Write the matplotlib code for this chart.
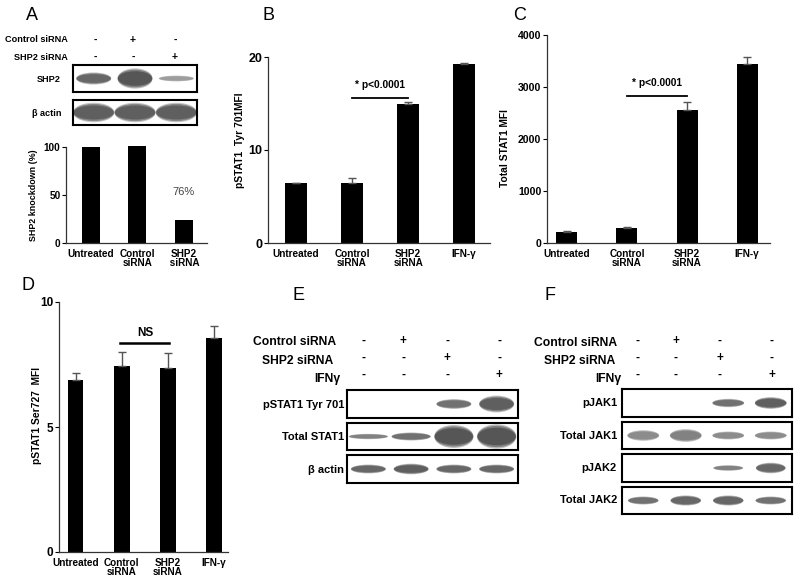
import matplotlib.pyplot as plt
from matplotlib.patches import Ellipse

plt.rcParams['font.family'] = ['Liberation Sans', 'DejaVu Sans']

W, H = 800, 581

# ---- data ----
a_cats = ["Untreated", "Control\nsiRNA", "SHP2\n siRNA"]
a_vals = [100, 101, 24]

b_cats = ["Untreated", "Control\nsiRNA", "SHP2\nsiRNA", "IFN-\u03b3"]
b_vals = [6.4, 6.5, 15.0, 19.3]
b_err = [0.05, 0.5, 0.15, 0.1]

c_cats = ["Untreated", "Control\nsiRNA", "SHP2\nsiRNA", "IFN-\u03b3"]
c_vals = [215, 290, 2555, 3440]
c_err = [15, 10, 150, 135]

d_cats = ["Untreated", "Control\nsiRNA", "SHP2\nsiRNA", "IFN-\u03b3"]
d_vals = [6.9, 7.45, 7.35, 8.55]
d_err = [0.25, 0.55, 0.6, 0.5]

# blot conditions (+/-)
a_ctrl = ["-", "+", "-"]
a_shp2 = ["-", "-", "+"]
ef_ctrl = ["-", "+", "-", "-"]
ef_shp2 = ["-", "-", "+", "-"]
ef_ifn = ["-", "-", "-", "+"]

# band intensity (0-1) and thickness (fraction of box height)
a_shp2_int = [0.85, 0.95, 0.55]
a_shp2_th = [0.45, 0.75, 0.22]
a_actin_int = [0.9, 0.9, 0.9]
a_actin_th = [0.78, 0.78, 0.78]

e_pstat_int = [0, 0, 0.8, 0.9]
e_pstat_th = [0, 0, 0.35, 0.6]
e_tstat_int = [0.7, 0.8, 0.95, 0.95]
e_tstat_th = [0.2, 0.3, 0.85, 0.9]
e_actin_int = [0.85, 0.9, 0.85, 0.85]
e_actin_th = [0.32, 0.38, 0.32, 0.32]

f_pjak1_int = [0, 0, 0.8, 0.9]
f_pjak1_th = [0, 0, 0.3, 0.42]
f_tjak1_int = [0.65, 0.7, 0.65, 0.65]
f_tjak1_th = [0.4, 0.48, 0.3, 0.3]
f_pjak2_int = [0, 0, 0.7, 0.85]
f_pjak2_th = [0, 0, 0.2, 0.38]
f_tjak2_int = [0.8, 0.85, 0.85, 0.8]
f_tjak2_th = [0.3, 0.38, 0.38, 0.3]


def rect(x0, y0, x1, y1):
    return [x0 / W, 1 - y1 / H, (x1 - x0) / W, (y1 - y0) / H]


fig = plt.figure(figsize=(8, 5.81), dpi=100)

TICK = 7.2


def bar_panel(box, cats, vals, err, xlim, ylim, yticks, width, yfs):
    ax = fig.add_axes(rect(*box))
    x = list(range(len(cats)))
    kw = {}
    if err is not None:
        kw = dict(yerr=[[0] * len(err), err], capsize=3,
                  error_kw=dict(ecolor="#555555", elinewidth=1, capthick=1))
    ax.bar(x, vals, width=width, color="black", clip_on=False, **kw)
    ax.set_xlim(*xlim)
    ax.set_ylim(*ylim)
    ax.set_yticks(yticks)
    ax.set_yticklabels([str(t) for t in yticks], fontsize=yfs, fontweight="bold")
    ax.set_xticks(x)
    ax.set_xticklabels(cats, fontsize=TICK, fontweight="bold", linespacing=0.9)
    ax.tick_params(axis="x", length=0, pad=4)
    ax.tick_params(axis="y", length=3, width=0.8, pad=1)
    for s in ["top", "right"]:
        ax.spines[s].set_visible(False)
    for s in ["left", "bottom"]:
        ax.spines[s].set_linewidth(0.9)
        ax.spines[s].set_color("#333333")
    return ax


def blot(box, ints, ths, bw=0.8):
    ax = fig.add_axes(rect(*box))
    n = len(ints)
    ax.set_xlim(-0.5, n - 0.5)
    ax.set_ylim(0, 1)
    ax.set_xticks([])
    ax.set_yticks([])
    for s in ax.spines.values():
        s.set_linewidth(1.5)
    for i, (v, t) in enumerate(zip(ints, ths)):
        if v <= 0:
            continue
        g = 1 - v * 0.75
        for scale, alpha in [(1.0, 0.35), (0.88, 0.55), (0.72, 0.75)]:
            ax.add_patch(Ellipse((i, 0.5), bw * (0.9 + 0.1 * scale), t * scale,
                                 color=(g, g, g), alpha=alpha, lw=0))
    return ax


def signs(xs, y, vals, fs):
    for x, v in zip(xs, vals):
        fig.text(x / W, 1 - y / H, v, ha="center", va="center",
                 fontsize=fs, fontweight="bold")


def label(x, y, s, fs, ha="right"):
    fig.text(x / W, 1 - y / H, s, ha=ha, va="center", fontsize=fs,
             fontweight="bold")


# ---- panel letters ----
for L, x, y in [("A", 32, 16), ("B", 268, 16), ("C", 520, 16),
                ("D", 28, 285), ("E", 298, 296), ("F", 550, 296)]:
    fig.text(x / W, 1 - y / H, L, ha="center", va="center", fontsize=13)

# ---- panel A ----
label(68, 40, "Control siRNA", 6.6)
label(68, 57, "SHP2 siRNA", 6.6)
signs([95, 133, 175], 40, a_ctrl, 7.5)
signs([95, 133, 175], 57, a_shp2, 7.5)
blot((73, 65, 197, 92), a_shp2_int, a_shp2_th, bw=0.85)
blot((73, 100, 197, 125), a_actin_int, a_actin_th, bw=1.0)
label(61, 79, "SHP2", 6.6)
label(61, 113, "\u03b2 actin", 6.6)

axA = bar_panel((66, 147, 207, 243), a_cats, a_vals, None,
                (-0.54, 2.5), (0, 100), [0, 50, 100], 0.39, 7.2)
fig.text(33 / W, 1 - 195 / H, "SHP2 knockdown (%)", rotation=90,
         ha="center", va="center", fontsize=6.4, fontweight="bold")
axA.text(2, 53, "76%", ha="center", va="center", fontsize=8, color="#444444")

# ---- panel B ----
axB = bar_panel((268, 57, 490, 243), b_cats, b_vals, b_err,
                (-0.5, 3.46), (0, 20), [0, 10, 20], 0.39, 9)
fig.text(240 / W, 1 - 140 / H, "pSTAT1  Tyr 701MFI", rotation=90,
         ha="center", va="center", fontsize=7.4, fontweight="bold")
axB.plot([1, 2], [15.6, 15.6], color="black", lw=1.3, clip_on=False)
axB.text(1.5, 16.4, "* p<0.0001", ha="center", va="bottom",
         fontsize=7.4, fontweight="bold")

# ---- panel C ----
axC = bar_panel((547, 35, 770, 243), c_cats, c_vals, c_err,
                (-0.33, 3.38), (0, 4000), [0, 1000, 2000, 3000, 4000], 0.35, 7.6)
fig.text(505 / W, 1 - 148 / H, "Total STAT1 MFI", rotation=90,
         ha="center", va="center", fontsize=7.4, fontweight="bold")
axC.plot([1, 2], [2830, 2830], color="black", lw=1.3, clip_on=False)
axC.text(1.5, 2990, "* p<0.0001", ha="center", va="bottom",
         fontsize=7.4, fontweight="bold")

# ---- panel D ----
axD = bar_panel((59, 302, 228, 552), d_cats, d_vals, d_err,
                (-0.36, 3.3), (0, 10), [0, 5, 10], 0.34, 8.5)
fig.text(37 / W, 1 - 416 / H, "pSTAT1 Ser727  MFI", rotation=90,
         ha="center", va="center", fontsize=7.4, fontweight="bold")
axD.plot([0.97, 2.03], [8.35, 8.35], color="black", lw=1.8, clip_on=False)
axD.text(1.5, 8.5, "NS", ha="center", va="bottom", fontsize=8.5,
         fontweight="bold")

# ---- panel E ----
e_x = [364, 403, 447, 499]
label(336, 342, "Control siRNA", 8.7)
label(333, 361, "SHP2 siRNA", 8.7)
label(340, 379, "IFN\u03b3", 8.7)
signs(e_x, 341, ef_ctrl, 8.5)
signs(e_x, 358, ef_shp2, 8.5)
signs(e_x, 375, ef_ifn, 8.5)
blot((347, 390, 518, 418), e_pstat_int, e_pstat_th, bw=0.82)
blot((347, 423, 518, 450), e_tstat_int, e_tstat_th, bw=0.92)
blot((347, 455, 518, 483), e_actin_int, e_actin_th, bw=0.82)
label(344, 405, "pSTAT1 Tyr 701", 8)
label(344, 437, "Total STAT1", 8)
label(344, 470, "\u03b2 actin", 8)

# ---- panel F ----
f_x = [637, 676, 720, 772]
label(617, 343, "Control siRNA", 8.7)
label(615, 361, "SHP2 siRNA", 8.7)
label(621, 379, "IFN\u03b3", 8.7)
signs(f_x, 341, ef_ctrl, 8.5)
signs(f_x, 358, ef_shp2, 8.5)
signs(f_x, 375, ef_ifn, 8.5)
blot((622, 389, 792, 417), f_pjak1_int, f_pjak1_th, bw=0.75)
blot((622, 422, 792, 449), f_tjak1_int, f_tjak1_th, bw=0.75)
blot((622, 454, 792, 482), f_pjak2_int, f_pjak2_th, bw=0.7)
blot((622, 487, 792, 514), f_tjak2_int, f_tjak2_th, bw=0.72)
label(617, 403, "pJAK1", 8)
label(617, 436, "Total JAK1", 8)
label(617, 468, "pJAK2", 8)
label(617, 500, "Total JAK2", 8)

fig.savefig("out.png", dpi=100)
